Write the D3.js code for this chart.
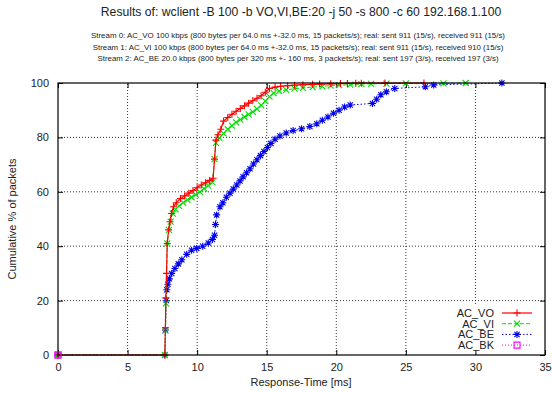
<!DOCTYPE html>
<html>
<head>
<meta charset="utf-8">
<script src="https://cdn.jsdelivr.net/npm/d3@7"></script>
<style>
  body { margin: 0; background: #fff; }
  svg { font-family: "Liberation Sans", Arial, sans-serif; }
  .tick text { font-size: 11px; fill: #222; }
  .grid line { stroke: #000; stroke-dasharray: 1 2; stroke-width: 0.8; }
</style>
</head>
<body>
<svg id="chart" width="552" height="393"></svg>
<script>
const W = 552, H = 393

const title = 'Results of: wclient -B 100 -b VO,VI,BE:20 -j 50 -s 800 -c 60 192.168.1.100'
const subtitles = [
    'Stream 0: AC_VO 100 kbps (800 bytes per 64.0 ms +-32.0 ms, 15 packets/s); real: sent 911 (15/s), received 911 (15/s)',
    'Stream 1: AC_VI 100 kbps (800 bytes per 64.0 ms +-32.0 ms, 15 packets/s); real: sent 911 (15/s), received 910 (15/s)',
    'Stream 2: AC_BE 20.0 kbps (800 bytes per 320 ms +- 160 ms, 3 packets/s); real: sent 197 (3/s), received 197 (3/s)'
]
const xTicks = [0, 5, 10, 15, 20, 25, 30, 35]
const yTicks = [0, 20, 40, 60, 80, 100]
const seriesNames = ['AC_VO', 'AC_VI', 'AC_BE', 'AC_BK']

// [response time ms, cumulative %]
const acVO = [[0,0],[7.68,0],[7.72,10],[7.75,21],[7.8,30],[7.85,41],[7.95,46],[8.05,49],[8.15,52],[8.3,54.5],
    [8.5,56],[8.8,57.5],[9.1,58.5],[9.4,59.5],[9.7,60.5],[10.0,61.5],[10.3,62.5],[10.6,63.3],[10.9,64.2],[11.15,65],
    [11.25,72],[11.35,79],[11.5,81],[11.7,83],[11.9,86],[12.2,87.3],[12.5,88.5],[12.8,89.6],[13.1,90.6],[13.4,91.6],
    [13.7,92.6],[14.0,93.5],[14.3,94.4],[14.6,95.3],[14.9,96.6],[15.2,98],[15.6,98.5],[16.0,98.8],[16.5,99],[17.0,99.2],
    [17.6,99.4],[18.3,99.5],[18.8,99.6],[19.6,99.7],[20.3,99.8],[20.8,99.85],[21.4,99.9],[21.8,99.93],[23.5,99.96],[26.3,100]]
const acVI = [[0,0],[7.68,0],[7.72,9],[7.77,19],[7.85,41],[7.97,46],[8.1,49],[8.25,52],[8.45,53.5],[8.7,54.8],
    [9.0,56],[9.3,57],[9.6,58],[9.9,59],[10.2,60],[10.5,61.2],[10.8,62.3],[11.1,63.5],[11.25,72],[11.35,78],
    [11.6,79.8],[11.9,81.5],[12.2,83],[12.5,84.3],[12.8,85.5],[13.1,86.5],[13.4,87.5],[13.7,88.5],[14.0,89.4],[14.3,90.5],
    [14.6,91.8],[14.9,93.3],[15.2,95],[15.5,96.3],[15.9,97],[16.4,97.5],[17.0,97.9],[17.6,98.2],[18.3,98.5],[19.0,98.8],
    [19.6,99],[20.2,99.2],[21.0,99.4],[21.8,99.6],[22.5,99.7],[23.6,99.8],[25.0,99.85],[27.7,99.9],[29.3,100]]
const acBE = [[0,0],[7.68,0],[7.72,9.2],[7.78,20],[7.82,24],[7.9,26],[8.0,28],[8.17,30],[8.4,31.8],[8.65,33.5],
    [8.9,35],[9.25,37],[9.6,38.5],[9.97,39.2],[10.4,40],[10.8,41.2],[11.1,42.5],[11.25,44],[11.32,48],[11.4,51.5],
    [11.64,54.5],[11.85,56],[12.1,58],[12.36,59.5],[12.6,61],[12.85,62.5],[13.08,64],[13.3,65.5],[13.55,67],[13.8,68.5],
    [14.05,70.2],[14.3,71.8],[14.55,73.3],[14.8,74.8],[15.05,76.3],[15.3,77.8],[15.6,79.3],[15.95,80.5],[16.4,81.6],[16.9,82.5],
    [17.5,83.2],[18.1,84],[18.6,85],[19.0,86.3],[19.4,87.5],[19.8,88.9],[20.2,90],[20.6,91.2],[21.0,91.9],[22.6,92.5],
    [22.9,94],[23.2,95.7],[23.6,96.8],[24.2,98],[26.4,98.6],[27.0,99.3],[31.9,100]]
const acBK = [[0,0]]

const svg = d3.select('#chart')
const margin = { left: 58, right: 7, top: 83, bottom: 38 }
const x = d3.scaleLinear().domain([0, 35]).range([margin.left, W - margin.right])
const y = d3.scaleLinear().domain([0, 100]).range([H - margin.bottom, margin.top])

// titles
svg.append('text').attr('x', 301).attr('y', 16).attr('text-anchor', 'middle')
    .style('font-size', '12.2px').attr('fill', '#222').text(title)
svg.append('g').selectAll('text').data(subtitles).enter().append('text')
    .attr('x', 298).attr('y', (d, i) => 38 + i * 11.5).attr('text-anchor', 'middle')
    .style('font-size', '7.9px').attr('fill', '#222').text(d => d)

// grid
svg.append('g').classed('grid', true)
    .selectAll('line').data(xTicks.slice(1, -1)).enter().append('line')
    .attr('x1', d => x(d)).attr('x2', d => x(d)).attr('y1', y(0)).attr('y2', y(100))
svg.append('g').classed('grid', true)
    .selectAll('line').data(yTicks.slice(1, -1)).enter().append('line')
    .attr('x1', x(0)).attr('x2', x(35)).attr('y1', d => y(d)).attr('y2', d => y(d))

// legend background hides grid
svg.append('rect').attr('x', 440).attr('y', 304).attr('width', 103).attr('height', 50).attr('fill', '#fff')

// axes (inward ticks, mirrored)
const tk = 5
svg.append('g').attr('transform', `translate(0,${y(0)})`)
    .call(d3.axisBottom(x).tickValues(xTicks).tickSizeInner(-tk).tickSizeOuter(0).tickPadding(8))
svg.append('g').attr('transform', `translate(0,${y(100)})`)
    .call(d3.axisTop(x).tickValues(xTicks).tickSizeInner(-tk).tickSizeOuter(0).tickFormat(''))
svg.append('g').attr('transform', `translate(${x(0)},0)`)
    .call(d3.axisLeft(y).tickValues(yTicks).tickSizeInner(-tk).tickSizeOuter(0).tickPadding(9))
svg.append('g').attr('transform', `translate(${x(35)},0)`)
    .call(d3.axisRight(y).tickValues(yTicks).tickSizeInner(-tk).tickSizeOuter(0).tickFormat(''))
svg.selectAll('.domain').remove()
svg.selectAll('.tick line').attr('stroke', '#000')

// axis labels
svg.append('text').attr('x', 301).attr('y', 386).attr('text-anchor', 'middle')
    .style('font-size', '11px').attr('fill', '#222').text('Response-Time [ms]')
svg.append('text').attr('transform', `translate(16,${(y(0) + y(100)) / 2}) rotate(-90)`)
    .attr('text-anchor', 'middle').style('font-size', '11px').attr('fill', '#222').text('Cumulative % of packets')

// marker shapes
const plus = s => `M${-s},0H${s}M0,${-s}V${s}`
const cross = s => `M${-s},${-s}L${s},${s}M${-s},${s}L${s},${-s}`
const star = s => plus(s) + cross(s * 0.75)
const square = s => `M${-s},${-s}H${s}V${s}H${-s}Z`

const series = [
    { name: seriesNames[0], data: acVO, color: '#ff0000', dash: null, mark: plus(3.5), w: 1.2 },
    { name: seriesNames[1], data: acVI, color: '#00dd00', dash: '4 2', mark: cross(3), w: 1 },
    { name: seriesNames[2], data: acBE, color: '#0000ee', dash: '1.5 2', mark: star(3.5), w: 1 },
    { name: seriesNames[3], data: acBK, color: '#ff00ff', dash: '1 2', mark: square(3), w: 1 }
]

const line = d3.line().x(d => x(d[0])).y(d => y(d[1]))
const plot = svg.append('g')
series.slice().reverse().forEach(s => {
    plot.append('path').attr('d', line(s.data)).attr('fill', 'none')
        .attr('stroke', s.color).attr('stroke-width', s.w).attr('stroke-dasharray', s.dash)
    plot.append('g').selectAll('path').data(s.data).enter().append('path')
        .attr('transform', d => `translate(${x(d[0])},${y(d[1])})`)
        .attr('d', s.mark).attr('fill', 'none').attr('stroke', s.color).attr('stroke-width', 1.1)
})

// border
svg.append('rect').attr('x', x(0)).attr('y', y(100)).attr('width', x(35) - x(0)).attr('height', y(0) - y(100))
    .attr('fill', 'none').attr('stroke', '#000').attr('stroke-width', 1.2)

// redraw bk marker on top of border
svg.append('path').attr('transform', `translate(${x(0)},${y(0)})`).attr('d', square(3))
    .attr('fill', 'none').attr('stroke', '#ff00ff').attr('stroke-width', 1.1)

// legend
const legend = svg.append('g').selectAll('g').data(series).enter().append('g')
    .attr('transform', (d, i) => `translate(0,${313 + i * 10.7})`)
legend.append('text').attr('x', 494).attr('y', 4).attr('text-anchor', 'end')
    .style('font-size', '11px').attr('fill', '#222').text(d => d.name)
legend.append('line').attr('x1', 502).attr('x2', 532).attr('y1', 0).attr('y2', 0)
    .attr('stroke', d => d.color).attr('stroke-width', d => d.w).attr('stroke-dasharray', d => d.dash)
legend.append('path').attr('transform', 'translate(517,0)').attr('d', d => d.mark)
    .attr('fill', 'none').attr('stroke', d => d.color).attr('stroke-width', 1.1)
</script>
</body>
</html>
